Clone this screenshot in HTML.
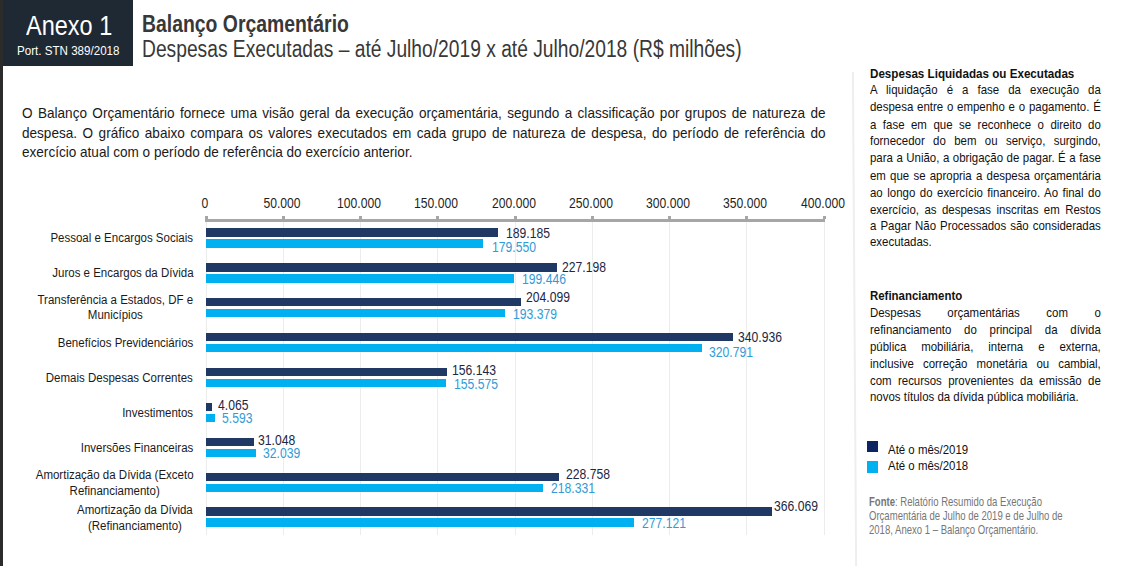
<!DOCTYPE html>
<html><head><meta charset="utf-8"><style>
html,body{margin:0;padding:0;background:#fff;}
body{width:1126px;height:566px;position:relative;overflow:hidden;font-family:"Liberation Sans",sans-serif;}
.t{position:absolute;white-space:nowrap;}
.j{text-align:justify;text-align-last:justify;white-space:normal;}
</style></head><body>
<div style="position:absolute;left:0;top:0;width:133px;height:66px;background:#1f2933"></div>
<div style="position:absolute;left:0;top:0;width:3px;height:566px;background:#2b2b2b"></div>
<div class="t" style="top:9px;left:26.20px;transform-origin:0 50%;font-size:27px;line-height:34px;color:#fff;font-weight:normal;transform:scaleX(0.87);">Anexo 1</div>
<div class="t" style="top:43px;left:16.60px;transform-origin:0 50%;font-size:12.5px;line-height:16px;color:#fff;font-weight:normal;transform:scaleX(0.928);">Port. STN 389/2018</div>
<div class="t" style="top:10px;left:142.20px;transform-origin:0 50%;font-size:23px;line-height:29px;color:#383838;font-weight:bold;transform:scaleX(0.843);">Balanço Orçamentário</div>
<div class="t" style="top:35px;left:142.20px;transform-origin:0 50%;font-size:23px;line-height:29px;color:#383838;font-weight:normal;transform:scaleX(0.836);">Despesas Executadas – até Julho/2019 x até Julho/2018 (R$ milhões)</div>
<div class="t j" style="top:103px;left:21.5px;width:888.83px;font-size:15px;line-height:20px;color:#1a1a1a;transform:scaleX(0.904);transform-origin:0 50%;">O Balanço Orçamentário fornece uma visão geral da execução orçamentária, segundo a classificação por grupos de natureza de</div>
<div class="t j" style="top:123px;left:21.5px;width:888.83px;font-size:15px;line-height:20px;color:#1a1a1a;transform:scaleX(0.904);transform-origin:0 50%;">despesa. O gráfico abaixo compara os valores executados em cada grupo de natureza de despesa, do período de referência do</div>
<div class="t" style="top:142px;left:21.50px;transform-origin:0 50%;font-size:15px;line-height:20px;color:#1a1a1a;font-weight:normal;transform:scaleX(0.904);">exercício atual com o período de referência do exercício anterior.</div>
<div style="position:absolute;left:205.50px;top:222px;width:1px;height:313px;background:#ececec"></div>
<div style="position:absolute;left:282.75px;top:222px;width:1px;height:313px;background:#ececec"></div>
<div style="position:absolute;left:360.00px;top:222px;width:1px;height:313px;background:#ececec"></div>
<div style="position:absolute;left:437.25px;top:222px;width:1px;height:313px;background:#ececec"></div>
<div style="position:absolute;left:514.50px;top:222px;width:1px;height:313px;background:#ececec"></div>
<div style="position:absolute;left:591.75px;top:222px;width:1px;height:313px;background:#ececec"></div>
<div style="position:absolute;left:669.00px;top:222px;width:1px;height:313px;background:#ececec"></div>
<div style="position:absolute;left:746.25px;top:222px;width:1px;height:313px;background:#ececec"></div>
<div style="position:absolute;left:823.50px;top:222px;width:1px;height:313px;background:#ececec"></div>
<div style="position:absolute;left:205px;top:219px;width:620px;height:3px;background:#a6a6a6"></div>
<div style="position:absolute;left:204.50px;top:216px;width:3px;height:3px;background:#a6a6a6"></div>
<div style="position:absolute;left:281.75px;top:216px;width:3px;height:3px;background:#a6a6a6"></div>
<div style="position:absolute;left:359.00px;top:216px;width:3px;height:3px;background:#a6a6a6"></div>
<div style="position:absolute;left:436.25px;top:216px;width:3px;height:3px;background:#a6a6a6"></div>
<div style="position:absolute;left:513.50px;top:216px;width:3px;height:3px;background:#a6a6a6"></div>
<div style="position:absolute;left:590.75px;top:216px;width:3px;height:3px;background:#a6a6a6"></div>
<div style="position:absolute;left:668.00px;top:216px;width:3px;height:3px;background:#a6a6a6"></div>
<div style="position:absolute;left:745.25px;top:216px;width:3px;height:3px;background:#a6a6a6"></div>
<div style="position:absolute;left:822.50px;top:216px;width:3px;height:3px;background:#a6a6a6"></div>
<div class="t" style="top:195px;left:164.70px;width:80px;text-align:center;font-size:14px;line-height:17px;color:#1f1f1f;transform:scaleX(0.868)">0</div>
<div class="t" style="top:195px;left:241.95px;width:80px;text-align:center;font-size:14px;line-height:17px;color:#1f1f1f;transform:scaleX(0.868)">50.000</div>
<div class="t" style="top:195px;left:319.20px;width:80px;text-align:center;font-size:14px;line-height:17px;color:#1f1f1f;transform:scaleX(0.868)">100.000</div>
<div class="t" style="top:195px;left:396.45px;width:80px;text-align:center;font-size:14px;line-height:17px;color:#1f1f1f;transform:scaleX(0.868)">150.000</div>
<div class="t" style="top:195px;left:473.70px;width:80px;text-align:center;font-size:14px;line-height:17px;color:#1f1f1f;transform:scaleX(0.868)">200.000</div>
<div class="t" style="top:195px;left:550.95px;width:80px;text-align:center;font-size:14px;line-height:17px;color:#1f1f1f;transform:scaleX(0.868)">250.000</div>
<div class="t" style="top:195px;left:628.20px;width:80px;text-align:center;font-size:14px;line-height:17px;color:#1f1f1f;transform:scaleX(0.868)">300.000</div>
<div class="t" style="top:195px;left:705.45px;width:80px;text-align:center;font-size:14px;line-height:17px;color:#1f1f1f;transform:scaleX(0.868)">350.000</div>
<div class="t" style="top:195px;left:782.70px;width:80px;text-align:center;font-size:14px;line-height:17px;color:#1f1f1f;transform:scaleX(0.868)">400.000</div>
<div style="position:absolute;left:206.0px;top:228.00px;width:292.29px;height:8.6px;background:#203864"></div>
<div style="position:absolute;left:206.0px;top:239.00px;width:277.40px;height:8.6px;background:#00b0f0"></div>
<div class="t" style="top:225px;left:505.80px;transform-origin:0 50%;font-size:14px;line-height:17px;color:#1b2744;font-weight:normal;transform:scaleX(0.868);">189.185</div>
<div class="t" style="top:239px;left:492.10px;transform-origin:0 50%;font-size:14px;line-height:17px;color:#2f9bd8;font-weight:normal;transform:scaleX(0.868);">179.550</div>
<div style="position:absolute;left:206.0px;top:262.93px;width:351.02px;height:8.6px;background:#203864"></div>
<div style="position:absolute;left:206.0px;top:273.93px;width:308.14px;height:8.6px;background:#00b0f0"></div>
<div class="t" style="top:259px;left:562.38px;transform-origin:0 50%;font-size:14px;line-height:17px;color:#1b2744;font-weight:normal;transform:scaleX(0.868);">227.198</div>
<div class="t" style="top:271px;left:521.60px;transform-origin:0 50%;font-size:14px;line-height:17px;color:#2f9bd8;font-weight:normal;transform:scaleX(0.868);">199.446</div>
<div style="position:absolute;left:206.0px;top:297.86px;width:315.33px;height:8.6px;background:#203864"></div>
<div style="position:absolute;left:206.0px;top:308.86px;width:298.77px;height:8.6px;background:#00b0f0"></div>
<div class="t" style="top:289px;left:525.78px;transform-origin:0 50%;font-size:14px;line-height:17px;color:#1b2744;font-weight:normal;transform:scaleX(0.868);">204.099</div>
<div class="t" style="top:306px;left:512.50px;transform-origin:0 50%;font-size:14px;line-height:17px;color:#2f9bd8;font-weight:normal;transform:scaleX(0.868);">193.379</div>
<div style="position:absolute;left:206.0px;top:332.79px;width:526.75px;height:8.6px;background:#203864"></div>
<div style="position:absolute;left:206.0px;top:343.79px;width:495.62px;height:8.6px;background:#00b0f0"></div>
<div class="t" style="top:329px;left:737.78px;transform-origin:0 50%;font-size:14px;line-height:17px;color:#1b2744;font-weight:normal;transform:scaleX(0.868);">340.936</div>
<div class="t" style="top:344px;left:709.28px;transform-origin:0 50%;font-size:14px;line-height:17px;color:#2f9bd8;font-weight:normal;transform:scaleX(0.868);">320.791</div>
<div style="position:absolute;left:206.0px;top:367.72px;width:241.24px;height:8.6px;background:#203864"></div>
<div style="position:absolute;left:206.0px;top:378.72px;width:240.36px;height:8.6px;background:#00b0f0"></div>
<div class="t" style="top:362px;left:452.30px;transform-origin:0 50%;font-size:14px;line-height:17px;color:#1b2744;font-weight:normal;transform:scaleX(0.868);">156.143</div>
<div class="t" style="top:376px;left:454.00px;transform-origin:0 50%;font-size:14px;line-height:17px;color:#2f9bd8;font-weight:normal;transform:scaleX(0.868);">155.575</div>
<div style="position:absolute;left:206.0px;top:402.65px;width:6.28px;height:8.6px;background:#203864"></div>
<div style="position:absolute;left:206.0px;top:413.65px;width:8.64px;height:8.6px;background:#00b0f0"></div>
<div class="t" style="top:397px;left:217.53px;transform-origin:0 50%;font-size:14px;line-height:17px;color:#1b2744;font-weight:normal;transform:scaleX(0.868);">4.065</div>
<div class="t" style="top:410px;left:222.09px;transform-origin:0 50%;font-size:14px;line-height:17px;color:#2f9bd8;font-weight:normal;transform:scaleX(0.868);">5.593</div>
<div style="position:absolute;left:206.0px;top:437.58px;width:47.97px;height:8.6px;background:#203864"></div>
<div style="position:absolute;left:206.0px;top:448.58px;width:49.50px;height:8.6px;background:#00b0f0"></div>
<div class="t" style="top:432px;left:258.08px;transform-origin:0 50%;font-size:14px;line-height:17px;color:#1b2744;font-weight:normal;transform:scaleX(0.868);">31.048</div>
<div class="t" style="top:445px;left:263.48px;transform-origin:0 50%;font-size:14px;line-height:17px;color:#2f9bd8;font-weight:normal;transform:scaleX(0.868);">32.039</div>
<div style="position:absolute;left:206.0px;top:472.51px;width:353.43px;height:8.6px;background:#203864"></div>
<div style="position:absolute;left:206.0px;top:483.51px;width:337.32px;height:8.6px;background:#00b0f0"></div>
<div class="t" style="top:466px;left:565.98px;transform-origin:0 50%;font-size:14px;line-height:17px;color:#1b2744;font-weight:normal;transform:scaleX(0.868);">228.758</div>
<div class="t" style="top:480px;left:550.88px;transform-origin:0 50%;font-size:14px;line-height:17px;color:#2f9bd8;font-weight:normal;transform:scaleX(0.868);">218.331</div>
<div style="position:absolute;left:206.0px;top:507.44px;width:565.58px;height:8.6px;background:#203864"></div>
<div style="position:absolute;left:206.0px;top:518.44px;width:428.15px;height:8.6px;background:#00b0f0"></div>
<div class="t" style="top:498px;left:774.38px;transform-origin:0 50%;font-size:14px;line-height:17px;color:#1b2744;font-weight:normal;transform:scaleX(0.868);">366.069</div>
<div class="t" style="top:515px;left:641.58px;transform-origin:0 50%;font-size:14px;line-height:17px;color:#2f9bd8;font-weight:normal;transform:scaleX(0.868);">277.121</div>
<div class="t" style="top:230px;right:932.80px;text-align:right;transform-origin:100% 50%;font-size:12.5px;line-height:16px;color:#1a1a1a;font-weight:normal;transform:scaleX(0.92);">Pessoal e Encargos Sociais</div>
<div class="t" style="top:265px;right:932.80px;text-align:right;transform-origin:100% 50%;font-size:12.5px;line-height:16px;color:#1a1a1a;font-weight:normal;transform:scaleX(0.92);">Juros e Encargos da Dívida</div>
<div class="t" style="top:293px;right:932.80px;text-align:center;font-size:12.5px;line-height:15px;color:#1a1a1a;transform:scaleX(0.92);transform-origin:100% 50%">Transferência a Estados, DF e<br>Municípios</div>
<div class="t" style="top:335px;right:932.80px;text-align:right;transform-origin:100% 50%;font-size:12.5px;line-height:16px;color:#1a1a1a;font-weight:normal;transform:scaleX(0.92);">Benefícios Previdenciários</div>
<div class="t" style="top:370px;right:932.80px;text-align:right;transform-origin:100% 50%;font-size:12.5px;line-height:16px;color:#1a1a1a;font-weight:normal;transform:scaleX(0.92);">Demais Despesas Correntes</div>
<div class="t" style="top:405px;right:932.80px;text-align:right;transform-origin:100% 50%;font-size:12.5px;line-height:16px;color:#1a1a1a;font-weight:normal;transform:scaleX(0.92);">Investimentos</div>
<div class="t" style="top:440px;right:932.80px;text-align:right;transform-origin:100% 50%;font-size:12.5px;line-height:16px;color:#1a1a1a;font-weight:normal;transform:scaleX(0.92);">Inversões Financeiras</div>
<div class="t" style="top:467px;right:932.80px;text-align:center;font-size:12.5px;line-height:16px;color:#1a1a1a;transform:scaleX(0.92);transform-origin:100% 50%">Amortização da Dívida (Exceto<br>Refinanciamento)</div>
<div class="t" style="top:502px;right:932.80px;text-align:center;font-size:12.5px;line-height:16px;color:#1a1a1a;transform:scaleX(0.92);transform-origin:100% 50%">Amortização da Dívida<br>(Refinanciamento)</div>
<svg style="position:absolute;left:0;top:0" width="1126" height="566"><line x1="852.9" y1="72" x2="856.1" y2="566" stroke="#eeeeee" stroke-width="2"/></svg>
<div class="t" style="top:65px;left:870.30px;transform-origin:0 50%;font-size:13px;line-height:17px;color:#111;font-weight:bold;transform:scaleX(0.895);">Despesas Liquidadas ou Executadas</div>
<div class="t j" style="top:81px;left:870.3px;width:262.27px;font-size:13px;line-height:17px;color:#111;transform:scaleX(0.88);transform-origin:0 50%;">A liquidação é a fase da execução da</div>
<div class="t j" style="top:98px;left:870.3px;width:262.27px;font-size:13px;line-height:17px;color:#111;transform:scaleX(0.88);transform-origin:0 50%;">despesa entre o empenho e o pagamento. É</div>
<div class="t j" style="top:116px;left:870.3px;width:262.27px;font-size:13px;line-height:17px;color:#111;transform:scaleX(0.88);transform-origin:0 50%;">a fase em que se reconhece o direito do</div>
<div class="t j" style="top:132px;left:870.3px;width:262.27px;font-size:13px;line-height:17px;color:#111;transform:scaleX(0.88);transform-origin:0 50%;">fornecedor do bem ou serviço, surgindo,</div>
<div class="t j" style="top:149px;left:870.3px;width:262.27px;font-size:13px;line-height:17px;color:#111;transform:scaleX(0.88);transform-origin:0 50%;">para a União, a obrigação de pagar. É a fase</div>
<div class="t j" style="top:167px;left:870.3px;width:262.27px;font-size:13px;line-height:17px;color:#111;transform:scaleX(0.88);transform-origin:0 50%;">em que se apropria a despesa orçamentária</div>
<div class="t j" style="top:184px;left:870.3px;width:262.27px;font-size:13px;line-height:17px;color:#111;transform:scaleX(0.88);transform-origin:0 50%;">ao longo do exercício financeiro. Ao final do</div>
<div class="t j" style="top:201px;left:870.3px;width:262.27px;font-size:13px;line-height:17px;color:#111;transform:scaleX(0.88);transform-origin:0 50%;">exercício, as despesas inscritas em Restos</div>
<div class="t j" style="top:217px;left:870.3px;width:262.27px;font-size:13px;line-height:17px;color:#111;transform:scaleX(0.88);transform-origin:0 50%;">a Pagar Não Processados são consideradas</div>
<div class="t" style="top:233px;left:870.30px;transform-origin:0 50%;font-size:13px;line-height:17px;color:#111;font-weight:normal;transform:scaleX(0.88);">executadas.</div>
<div class="t" style="top:287px;left:870.30px;transform-origin:0 50%;font-size:13px;line-height:17px;color:#111;font-weight:bold;transform:scaleX(0.88);">Refinanciamento</div>
<div class="t j" style="top:304px;left:870.3px;width:262.27px;font-size:13px;line-height:17px;color:#111;transform:scaleX(0.88);transform-origin:0 50%;">Despesas orçamentárias com o</div>
<div class="t j" style="top:321px;left:870.3px;width:262.27px;font-size:13px;line-height:17px;color:#111;transform:scaleX(0.88);transform-origin:0 50%;">refinanciamento do principal da dívida</div>
<div class="t j" style="top:338px;left:870.3px;width:262.27px;font-size:13px;line-height:17px;color:#111;transform:scaleX(0.88);transform-origin:0 50%;">pública mobiliária, interna e externa,</div>
<div class="t j" style="top:355px;left:870.3px;width:262.27px;font-size:13px;line-height:17px;color:#111;transform:scaleX(0.88);transform-origin:0 50%;">inclusive correção monetária ou cambial,</div>
<div class="t j" style="top:372px;left:870.3px;width:262.27px;font-size:13px;line-height:17px;color:#111;transform:scaleX(0.88);transform-origin:0 50%;">com recursos provenientes da emissão de</div>
<div class="t" style="top:388px;left:870.30px;transform-origin:0 50%;font-size:13px;line-height:17px;color:#111;font-weight:normal;transform:scaleX(0.88);">novos títulos da dívida pública mobiliária.</div>
<div style="position:absolute;left:867px;top:440.8px;width:11px;height:11.6px;background:#0c2461"></div>
<div style="position:absolute;left:867px;top:461px;width:11px;height:11.6px;background:#00b0f0"></div>
<div class="t" style="top:442px;left:887.80px;transform-origin:0 50%;font-size:13px;line-height:16px;color:#111;font-weight:normal;transform:scaleX(0.88);">Até o mês/2019</div>
<div class="t" style="top:458px;left:887.80px;transform-origin:0 50%;font-size:13px;line-height:16px;color:#111;font-weight:normal;transform:scaleX(0.88);">Até o mês/2018</div>
<div class="t" style="top:494px;left:869.00px;transform-origin:0 50%;font-size:13.5px;line-height:16px;color:#767676;font-weight:normal;transform:scaleX(0.707);"><b>Fonte</b>: Relatório Resumido da Execução</div>
<div class="t" style="top:508px;left:869.00px;transform-origin:0 50%;font-size:13.5px;line-height:16px;color:#767676;font-weight:normal;transform:scaleX(0.707);">Orçamentária de Julho de 2019 e de Julho de</div>
<div class="t" style="top:522px;left:869.00px;transform-origin:0 50%;font-size:13.5px;line-height:16px;color:#767676;font-weight:normal;transform:scaleX(0.707);">2018, Anexo 1 – Balanço Orçamentário.</div>
</body></html>
